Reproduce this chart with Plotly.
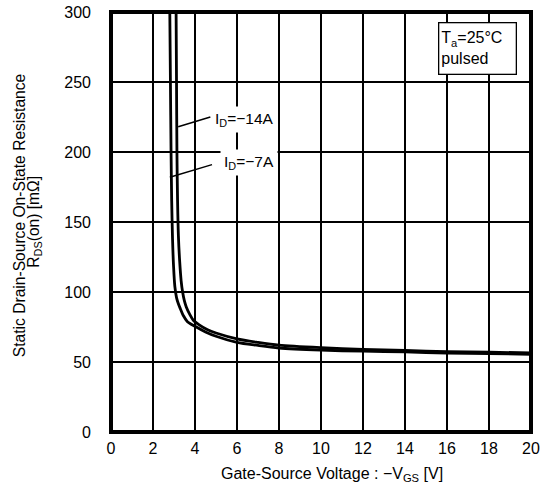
import plotly.graph_objects as go

# Data
vgs_14a = [3.10, 3.12, 3.14, 3.17, 3.21, 3.27, 3.34, 3.41, 3.49, 3.58, 3.75, 3.92, 4.2, 4.6, 5.0, 6, 7, 8, 10, 12, 14, 16, 18, 20]
rds_14a = [300, 250, 200, 165, 140, 122, 108, 100, 94, 89.5, 84, 79.8, 76.5, 73, 70.7, 66.5, 64, 62, 60.2, 59, 58.3, 57.4, 57, 56.5]
vgs_7a = [2.80, 2.83, 2.86, 2.89, 2.93, 2.98, 3.04, 3.12, 3.20, 3.29, 3.45, 3.63, 4.0, 4.5, 5.0, 6, 7, 8, 10, 12, 14, 16, 18, 20]
rds_7a = [300, 250, 200, 165, 138, 118, 104, 96, 92, 88.5, 83, 79, 75.5, 71.5, 68.4, 64, 61.8, 60, 58.5, 57.7, 57.2, 56.4, 56, 55.5]

x_ticks = [0, 2, 4, 6, 8, 10, 12, 14, 16, 18, 20]
y_ticks = [0, 50, 100, 150, 200, 250, 300]

FONT = "Liberation Sans, Arial, sans-serif"

fig = go.Figure()
fig.add_trace(go.Scatter(x=vgs_7a, y=rds_7a, mode="lines",
                         line=dict(color="black", width=2.8, shape="spline", smoothing=0.8),
                         showlegend=False, hoverinfo="skip"))
fig.add_trace(go.Scatter(x=vgs_14a, y=rds_14a, mode="lines",
                         line=dict(color="black", width=2.8, shape="spline", smoothing=0.8),
                         showlegend=False, hoverinfo="skip"))

fig.update_layout(
    width=550, height=495,
    margin=dict(l=111, r=19, t=12, b=63, autoexpand=False),
    paper_bgcolor="white", plot_bgcolor="white",
    font=dict(family=FONT, size=16, color="black"),
    xaxis=dict(range=[0, 20], tickvals=x_ticks, showgrid=True, gridcolor="black", gridwidth=2,
               zeroline=False, showline=False, ticks="", ticklabelstandoff=5, automargin=False,
               ticklabeloverflow="allow", tickfont=dict(size=16)),
    yaxis=dict(range=[0, 300], tickvals=y_ticks, showgrid=True, gridcolor="black", gridwidth=2,
               zeroline=False, showline=False, ticks="", ticklabelstandoff=19, automargin=False,
               ticklabeloverflow="allow", tickfont=dict(size=16)),
)

# frame
fig.add_shape(type="rect", xref="paper", yref="paper", x0=0, y0=0, x1=1, y1=1,
              line=dict(color="black", width=4), layer="above")

# leader lines for the curve labels
fig.add_shape(type="line", xref="x", yref="y", x0=3.20, y0=218, x1=4.73, y1=225,
              line=dict(color="black", width=1.5))
fig.add_shape(type="line", xref="x", yref="y", x0=2.80, y0=182, x1=4.81, y1=191,
              line=dict(color="black", width=1.5))

fig.add_annotation(x=4.78, y=223.5, xref="x", yref="y", xanchor="left", yanchor="middle",
                   text="I<sub>D</sub>=−14A", showarrow=False, bgcolor="white", borderpad=3,
                   font=dict(size=15.5))
fig.add_annotation(x=5.2, y=192.5, xref="x", yref="y", xanchor="left", yanchor="middle",
                   text="I<sub>D</sub>=−7A", showarrow=False, bgcolor="white", borderpad=3,
                   font=dict(size=15.5))

# condition box
fig.add_annotation(x=17.43, y=274.2, xref="x", yref="y", xanchor="center", yanchor="middle",
                   text="T<sub>a</sub>=25°C<br>pulsed", align="left", showarrow=False,
                   bgcolor="white", bordercolor="black", borderwidth=1.3, borderpad=2,
                   width=72, height=46, font=dict(size=16))

# axis titles
fig.add_annotation(x=0.527, y=-0.1, xref="paper", yref="paper", xanchor="center", yanchor="middle",
                   text="Gate-Source Voltage : −V<sub>GS</sub> [V]", showarrow=False,
                   font=dict(size=16))
fig.add_annotation(x=-0.218, y=0.515, xref="paper", yref="paper", xanchor="center", yanchor="middle",
                   text="Static Drain-Source On-State Resistance", textangle=-90, showarrow=False,
                   font=dict(size=15.6))
fig.add_annotation(x=-0.184, y=0.5, xref="paper", yref="paper", xanchor="center", yanchor="middle",
                   text="R<sub>DS</sub>(on) [mΩ]", textangle=-90, showarrow=False,
                   font=dict(size=15.6))

# remove the default page margin so the 550x495 figure fills the window exactly
fig.write_html("out.html", config={"displayModeBar": False},
               post_script="document.body.style.margin='0';")
